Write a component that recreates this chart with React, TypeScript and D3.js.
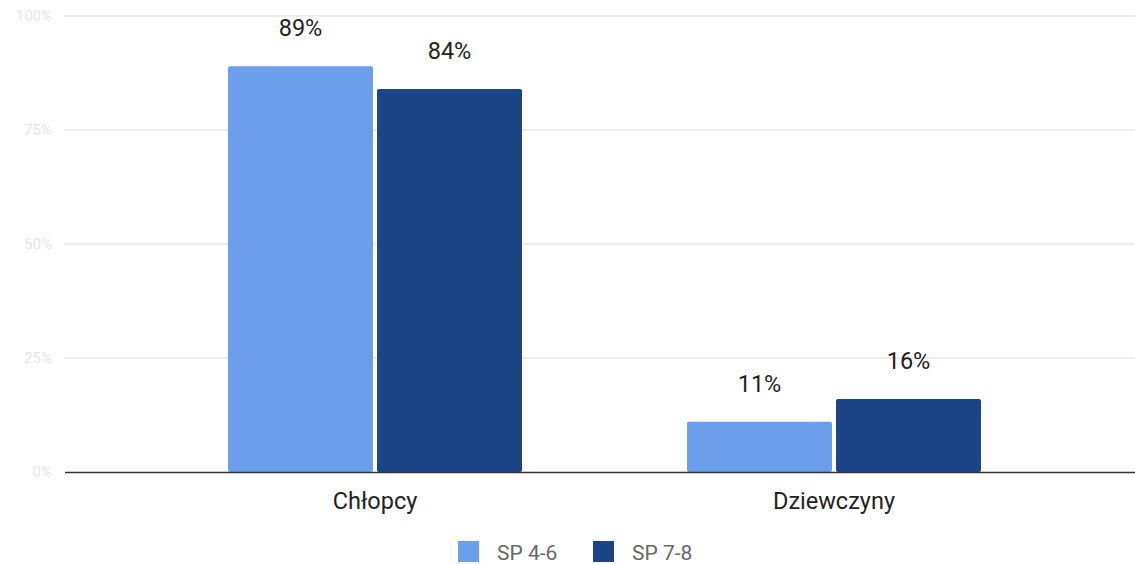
import React from "react";
import * as d3 from "d3";

const categories = ["Chłopcy", "Dziewczyny"];
const seriesNames = ["SP 4-6", "SP 7-8"];
const sp46 = [89, 11];
const sp78 = [84, 16];
const yTicks = [0, 25, 50, 75, 100];
const colors = ["#6d9eeb", "#1c4587"];

const W = 1135;
const H = 564;

export default function App() {
  const y = d3.scaleLinear().domain([0, 100]).range([472, 16]);
  const x = d3.scaleBand<string>().domain(categories).range([145.5, 1063.5]).paddingInner(0).paddingOuter(0);
  const sub = d3.scaleBand<string>().domain(seriesNames).range([0, 294]).paddingInner(0.027);
  const groupOffset = (x.bandwidth() - 294) / 2;
  const values = [sp46, sp78];

  return (
    <svg width={W} height={H} style={{ position: "absolute", left: 0, top: 0, background: "#fff" }} fontFamily="Roboto, sans-serif">
      {yTicks.map((t) => (
        <g key={t}>
          {t !== 0 && <line x1={65} x2={W} y1={y(t)} y2={y(t)} stroke="#d9d9d9" strokeWidth={1} />}
          <text x={52} y={y(t) + 5} textAnchor="end" fontSize={15} fill="#e6e6e6">{t}%</text>
        </g>
      ))}
      {categories.map((c, ci) =>
        seriesNames.map((s, si) => {
          const v = values[si][ci];
          const bx = (x(c) as number) + groupOffset + (sub(s) as number);
          const bw = sub.bandwidth();
          return (
            <g key={c + s}>
              <rect x={bx} y={y(v)} width={bw} height={y(0) - y(v)} fill={colors[si]} rx={2} />
              <text x={bx + bw / 2} y={y(v) - 30} textAnchor="middle" fontSize={23.5} fill="#222">{v}%</text>
            </g>
          );
        })
      )}
      <line x1={65} x2={W} y1={y(0) + 0.5} y2={y(0) + 0.5} stroke="#333" strokeWidth={1.5} />
      {categories.map((c) => (
        <text key={c} x={(x(c) as number) + x.bandwidth() / 2} y={509} textAnchor="middle" fontSize={23.5} fill="#222">{c}</text>
      ))}
      {seriesNames.map((s, i) => {
        const lx = [458, 593][i];
        return (
          <g key={s}>
            <rect x={lx} y={541} width={21} height={21} fill={colors[i]} />
            <text x={lx + 39} y={560} fontSize={21} fill="#666">{s}</text>
          </g>
        );
      })}
    </svg>
  );
}
